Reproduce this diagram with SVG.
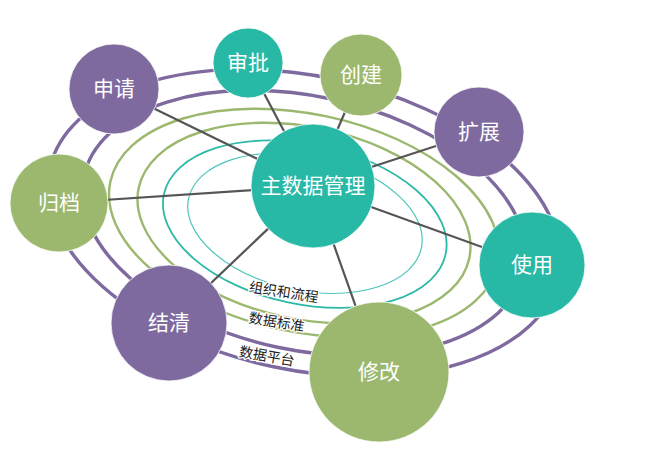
<svg xmlns="http://www.w3.org/2000/svg" width="659" height="453" viewBox="0 0 659 453">
<style>
.ring{fill:none}
.pr{stroke:#7E6A9E;stroke-width:3.4}
.gr{stroke:#9BB86E;stroke-width:2.4}
.tr{stroke:#2DB9A8;stroke-width:1.8}
.tr2{stroke:#4CC6B8;stroke-width:1.2}
.conn line{stroke:#555;stroke-width:2.2}
.purple{fill:#7E6A9E}
.teal{fill:#27B8A6}
.green{fill:#9BB86E}
.node circle{stroke:#fff;stroke-width:0.8}
.lbl{font-family:"Noto Sans CJK SC","Noto Sans",sans-serif;font-size:21px;fill:#fff;text-anchor:middle}
.rl{font-family:"Noto Sans CJK SC","Noto Sans",sans-serif;font-size:14px;fill:#222;text-anchor:middle;stroke:#fff;stroke-width:2.5;paint-order:stroke}
</style>
<g id="rings" transform="rotate(12 304 223)">
<ellipse class="ring pr" cx="304" cy="223" rx="260" ry="147"/>
<ellipse class="ring pr" cx="304" cy="223" rx="225" ry="127"/>
<ellipse class="ring gr" cx="304" cy="223" rx="198" ry="109"/>
<ellipse class="ring gr" cx="304" cy="223" rx="169" ry="96"/>
<ellipse class="ring tr" cx="305" cy="224" rx="144" ry="80"/>
<ellipse class="ring tr2" cx="305" cy="223" rx="119" ry="67"/>
</g>
<g id="ring-labels">
<text class="rl" transform="translate(283 297) rotate(9)">组织和流程</text>
<text class="rl" transform="translate(276 327) rotate(9)">数据标准</text>
<text class="rl" transform="translate(266 361) rotate(10)">数据平台</text>
</g>
<g id="connectors" class="conn">
<line x1="313" y1="186" x2="114" y2="89"/>
<line x1="313" y1="186" x2="248" y2="63"/>
<line x1="313" y1="186" x2="361" y2="75"/>
<line x1="313" y1="186" x2="479" y2="132"/>
<line x1="313" y1="186" x2="59" y2="203"/>
<line x1="313" y1="186" x2="532" y2="265"/>
<line x1="313" y1="186" x2="379" y2="372"/>
<line x1="313" y1="186" x2="169" y2="323"/>
</g>
<g id="node-shenqing" class="node"><circle class="purple" cx="114" cy="89" r="45"/><text class="lbl" x="114" y="96">申请</text></g>
<g id="node-shenpi" class="node"><circle class="teal" cx="248" cy="63" r="35"/><text class="lbl" x="248" y="70">审批</text></g>
<g id="node-chuangjian" class="node"><circle class="green" cx="361" cy="75" r="41"/><text class="lbl" x="361" y="82">创建</text></g>
<g id="node-kuozhan" class="node"><circle class="purple" cx="479" cy="132" r="45"/><text class="lbl" x="479" y="139">扩展</text></g>
<g id="node-guidang" class="node"><circle class="green" cx="59" cy="203" r="49"/><text class="lbl" x="59" y="210">归档</text></g>
<g id="node-main" class="node"><circle class="teal" cx="313" cy="186" r="62"/><text class="lbl" x="313" y="193">主数据管理</text></g>
<g id="node-shiyong" class="node"><circle class="teal" cx="532" cy="265" r="53"/><text class="lbl" x="532" y="272">使用</text></g>
<g id="node-jieqing" class="node"><circle class="purple" cx="169" cy="323" r="58"/><text class="lbl" x="169" y="330">结清</text></g>
<g id="node-xiugai" class="node"><circle class="green" cx="379" cy="372" r="70"/><text class="lbl" x="379" y="379">修改</text></g>
</svg>
